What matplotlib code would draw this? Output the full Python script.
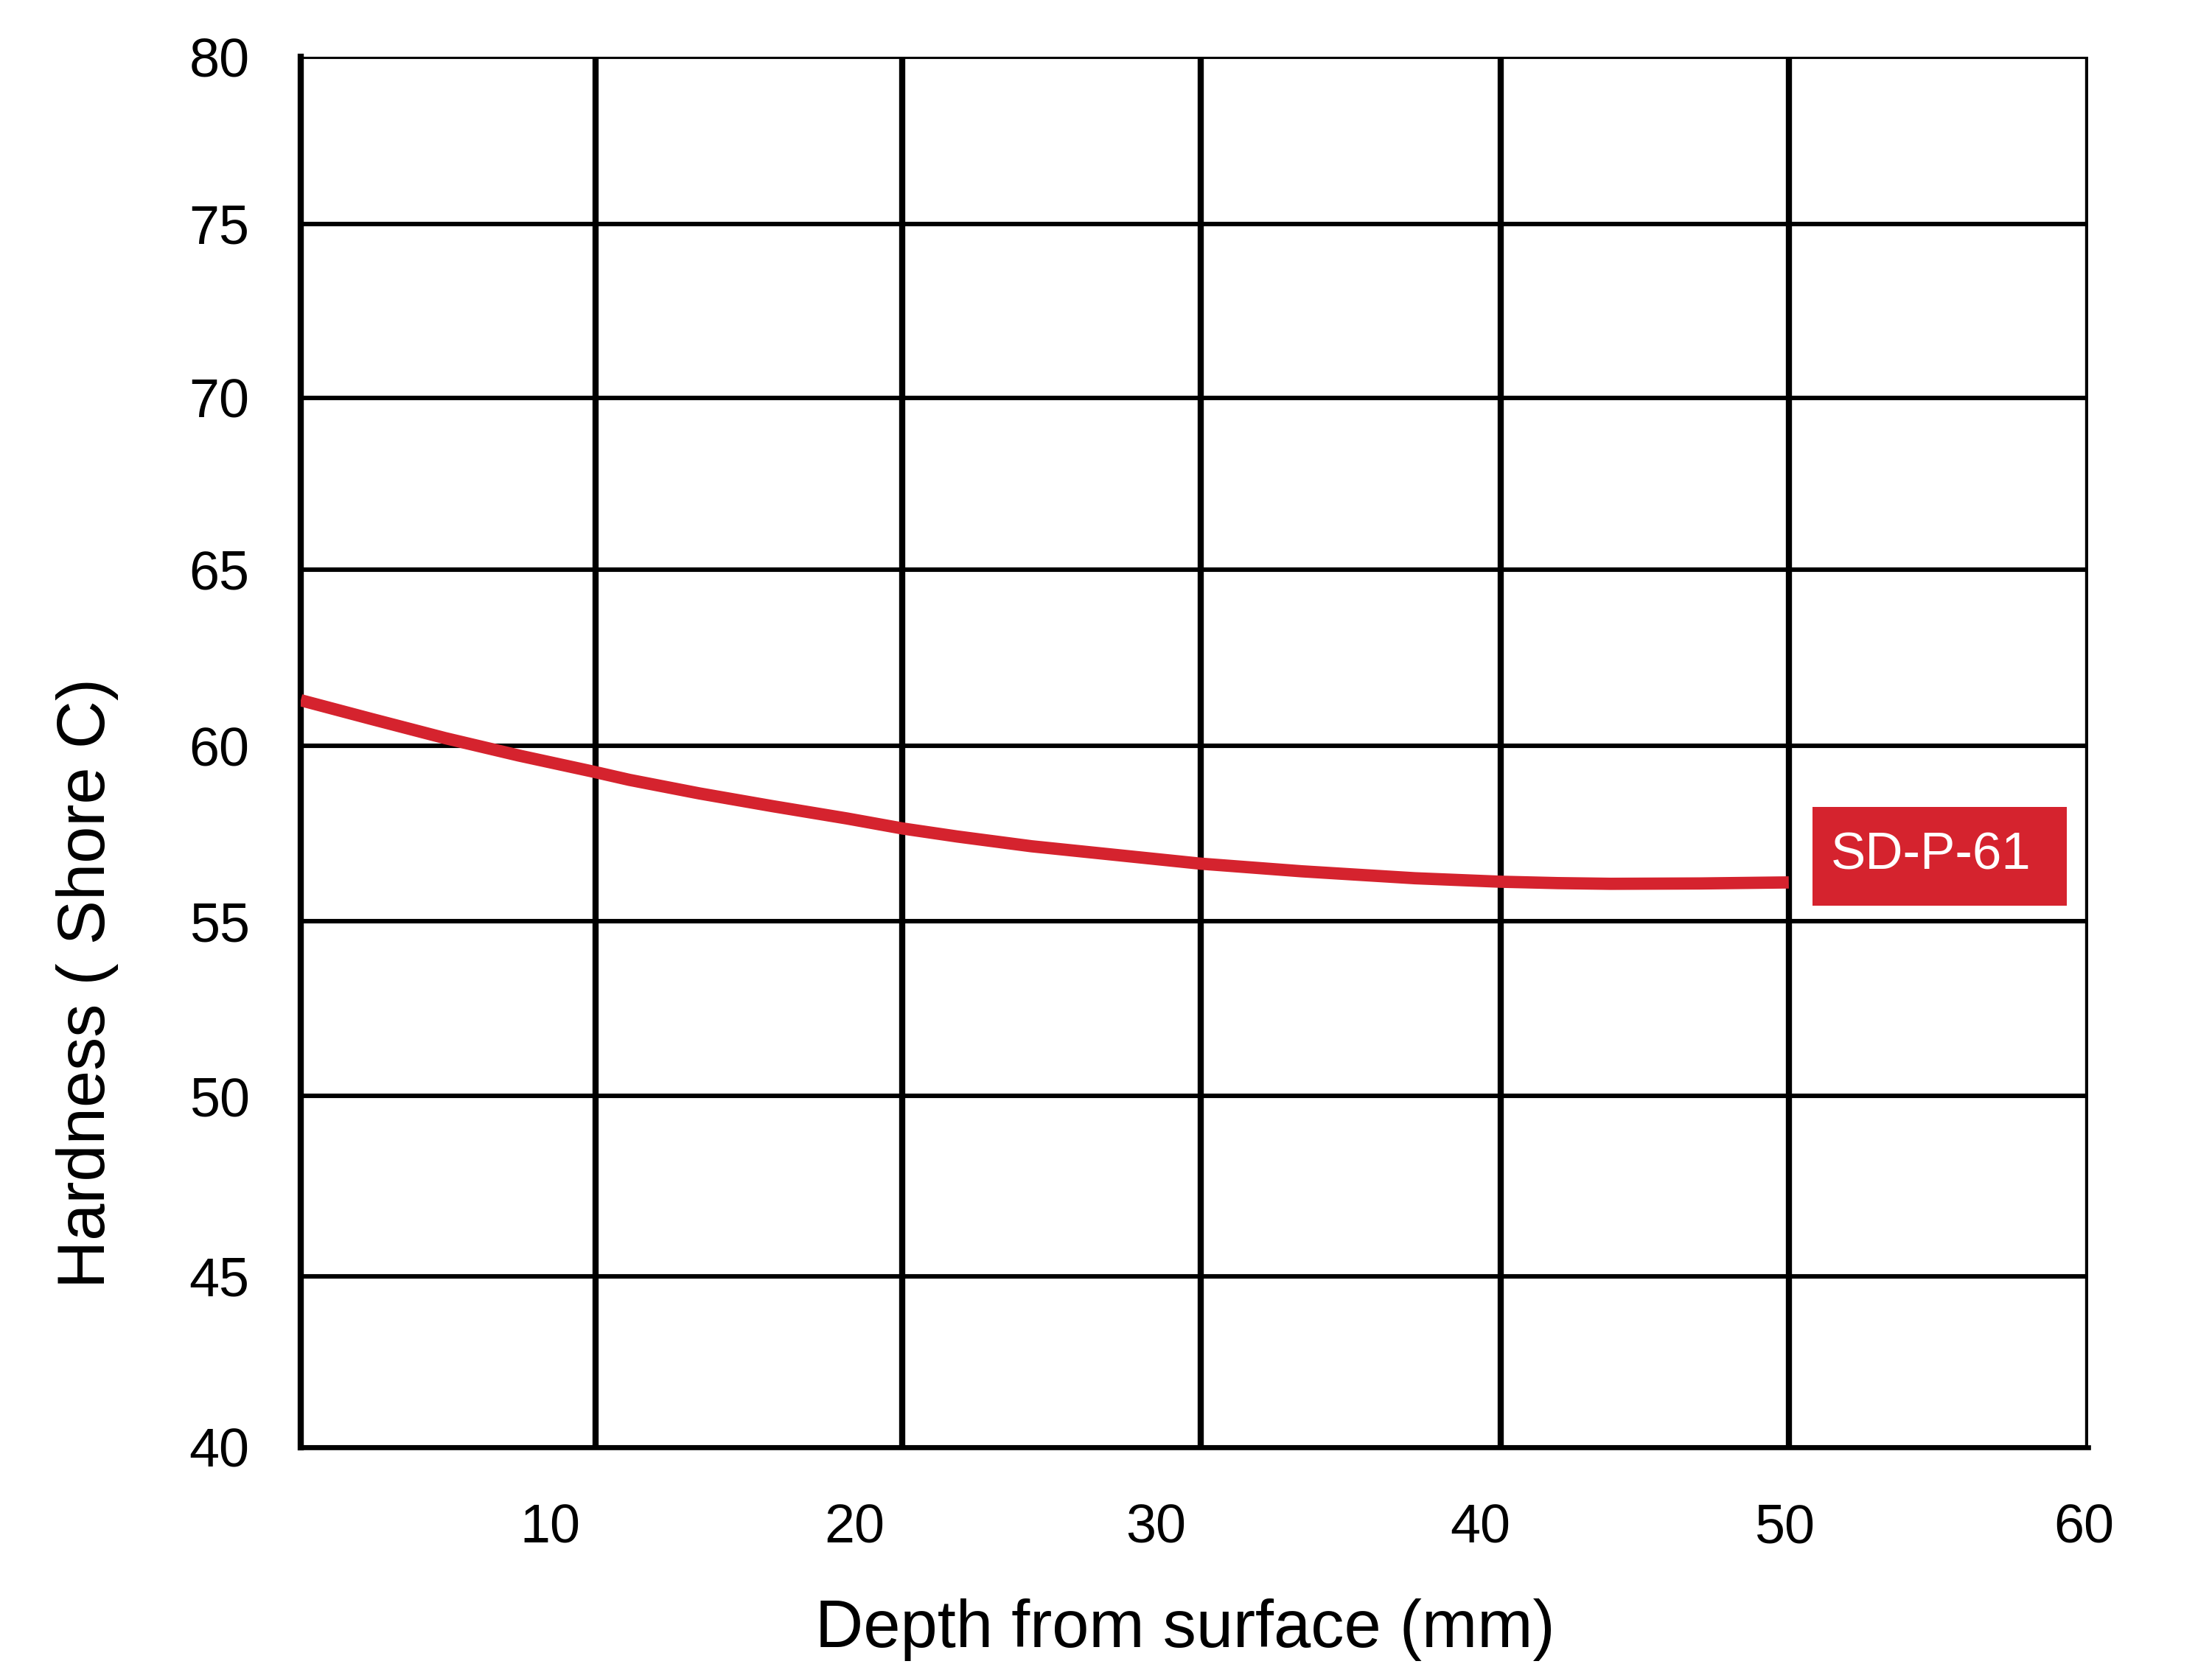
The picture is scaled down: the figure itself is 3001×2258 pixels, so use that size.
import matplotlib
matplotlib.use("Agg")
import matplotlib.pyplot as plt
from matplotlib.patches import Rectangle

plt.rcParams['font.family'] = ['Liberation Sans', 'DejaVu Sans']

# Data
depth = [0.0, 2.38, 4.85, 7.32, 9.8, 11.03, 13.38, 15.86, 18.33, 20.21, 22.04,
         24.53, 30.2, 33.6, 37.4, 40.27, 42.2, 43.98, 46.98, 49.95]
hardness = [61.49, 60.95, 60.40, 59.90, 59.44, 59.20, 58.81, 58.44, 58.09, 57.80, 57.57,
            57.29, 56.79, 56.57, 56.37, 56.27, 56.23, 56.21, 56.22, 56.25]
series_name = "SD-P-61"
x_tick_labels = ["10", "20", "30", "40", "50", "60"]
y_tick_labels = ["40", "45", "50", "55", "60", "65", "70", "75", "80"]

# Layout: grid lines and label positions as drawn in the reference
x_grid_pos = [9.9, 20.2, 30.2, 40.27, 49.95, 60.0]
x_label_pos = [8.36, 18.6, 28.7, 39.6, 49.8, 59.85]
y_grid_pos = [40.0, 44.92, 50.11, 55.13, 60.18, 65.25, 70.19, 75.19, 80.0]

W, H = 3001, 2258
fig = plt.figure(figsize=(W / 100, H / 100), dpi=100)
ax = fig.add_axes([408 / W, 1 - 1964 / H, (2833 - 408) / W, (1964 - 77) / H])

red = '#D5232E'

ax.set_xlim(0, 60)
ax.set_ylim(40, 80)

for yv in y_grid_pos:
    ax.axhline(yv, color='black', lw=4.4, zorder=1)
for xv in x_grid_pos:
    ax.axvline(xv, color='black', lw=6.0, zorder=1)

ax.plot(depth, hardness, color=red, lw=12.0, solid_capstyle='butt',
        solid_joinstyle='round', zorder=3)

for s in ['top', 'right']:
    ax.spines[s].set_visible(False)
ax.spines['left'].set_linewidth(6.0)
ax.spines['bottom'].set_linewidth(4.8)

ax.set_xticks(x_label_pos)
ax.set_xticklabels(x_tick_labels)
ax.set_yticks(y_grid_pos)
ax.set_yticklabels(y_tick_labels)
ax.tick_params(axis='both', length=0, labelsize=53)
ax.tick_params(axis='x', pad=54)
ax.tick_params(axis='y', pad=50)

fig.text(1608 / W, 1 - 2211 / H, "Depth from surface (mm)", fontsize=65,
         ha='center', va='center')
fig.text(119 / W, 1 - 1334 / H, "Hardness ( Shore C)", fontsize=65,
         ha='center', va='center', rotation=90)

rect = Rectangle((2459 / W, 1 - 1229 / H), 345 / W, 134 / H,
                 transform=fig.transFigure, facecolor=red, edgecolor='none', zorder=5)
fig.patches.append(rect)
fig.text(2484 / W, 1 - 1162 / H, series_name, fontsize=51, color='white',
         ha='left', va='center', zorder=6)

fig.savefig("out.png", dpi=100, facecolor='white')
